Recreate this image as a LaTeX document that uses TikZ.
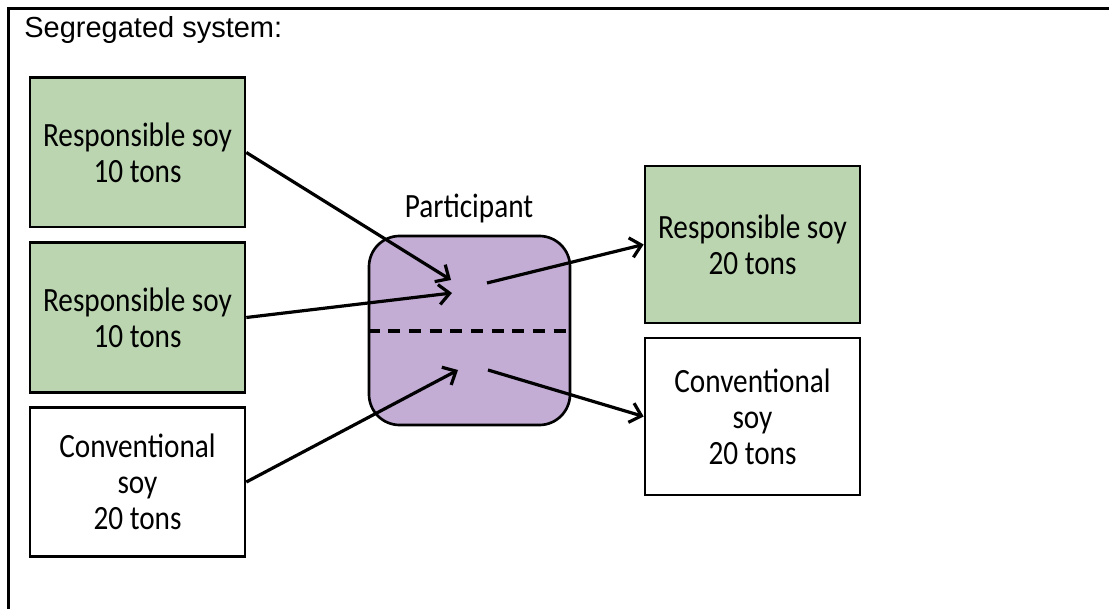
\documentclass[tikz,border=0pt]{standalone}
\usepackage{fontspec}
\setmainfont{Carlito}
\newfontfamily\boxfont[FakeStretch=0.86]{Carlito}
\newfontfamily\titlefont{Liberation Sans}
\usetikzlibrary{arrows.meta}

\definecolor{soygreen}{RGB}{187,213,177}
\definecolor{partpurple}{RGB}{195,173,213}

\tikzset{every picture/.style={line width=2pt}}
\tikzset{
  soybox/.style={draw, minimum width=161.25pt, minimum height=112pt, inner sep=0pt, align=center,
    font=\boxfont\fontsize{25.5}{27}\selectfont},
  flow/.style={line width=2.4pt, -{Straight Barb[length=8pt,width=15pt,line width=2.4pt]}}
}

\begin{document}
\begin{tikzpicture}[x=0.75pt,y=0.75pt,yscale=-1,xscale=1]
\useasboundingbox (0,0) rectangle (1109,609);

%Frame lines
\draw [line width=2.25pt] (1109,9) -- (8,9) -- (8,609) ;
% Text Node
\node (title) [anchor=base west, inner sep=0pt, font=\titlefont\fontsize{21.75}{26}\selectfont] at (23,38) {Segregated system:};

%Shape: Rounded Rect [id:participant]
\node (part) [draw, fill=partpurple, rounded corners=23pt, minimum width=150.75pt, minimum height=141.75pt] at (469.5,330.5) {};
%Straight Lines (dashed split)
\draw [line width=2.4pt, dash pattern={on 9pt off 6.5pt}] (part.west |- 0,331) -- (part.east |- 0,331) ;
% Text Node
\node (partlabel) [font=\boxfont\fontsize{25.5}{27}\selectfont, inner sep=0pt] at (469,208) {Participant};

%Input boxes
\node (resp1) [soybox, fill=soygreen] at (137.5,152.5) {Responsible soy\\10 tons};
\node (resp2) [soybox, fill=soygreen] at (137.5,317.5) {Responsible soy\\10 tons};
\node (conv1) [soybox, fill=white] at (137.5,482) {Conventional\\soy\\20 tons};
%Output boxes
\node (resp3) [soybox, fill=soygreen, minimum height=117.75pt] at (752.5,244.5) {Responsible soy\\20 tons};
\node (conv2) [soybox, fill=white, minimum height=117.75pt] at (752.5,416.5) {Conventional\\soy\\20 tons};

%Free ends inside the participant
\coordinate (in1) at (451,280) ;
\coordinate (in2) at (452,293) ;
\coordinate (in3) at (458,370) ;
\coordinate (out1) at (487,283) ;
\coordinate (out2) at (488,370) ;

%Arrows
\draw [flow] (resp1.east) -- (in1) ;
\draw [flow] (resp2.east) -- (in2) ;
\draw [flow] (conv1.east) -- (in3) ;
\draw [flow] (out1) -- (resp3.west) ;
\draw [flow] (out2) -- (conv2.west) ;

\end{tikzpicture}
\end{document}
